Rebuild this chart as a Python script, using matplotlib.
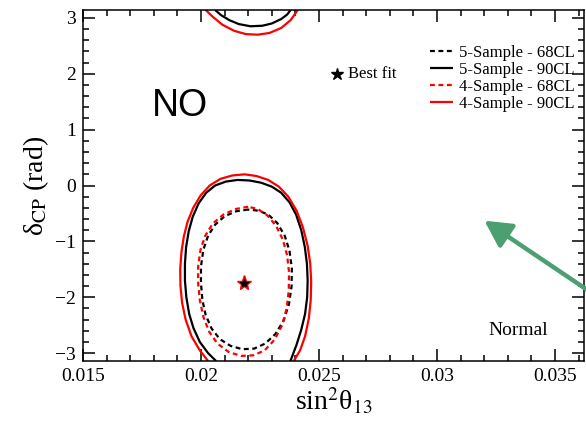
import numpy as np
import matplotlib
matplotlib.use("Agg")
import matplotlib.pyplot as plt
from matplotlib.ticker import MultipleLocator

plt.rcParams['font.family'] = ['Liberation Serif', 'DejaVu Serif']
plt.rcParams['mathtext.fontset'] = 'stix'

PI = np.pi

# contours (sin^2 theta13, delta_CP)
# 5-Sample 90CL main island
s5_90_x = [0.02064, 0.02030, 0.01995, 0.01968, 0.01950, 0.01938, 0.01932, 0.01932, 0.01937, 0.01948,
           0.01965, 0.01990, 0.02022, 0.02060, 0.02105, 0.02155, 0.02205, 0.02255, 0.02300, 0.02340,
           0.02375, 0.02403, 0.02425, 0.02440, 0.02449, 0.02452, 0.02450, 0.02441, 0.02425, 0.02405, 0.02379]
s5_90_y = [-PI, -3.00, -2.80, -2.55, -2.30, -2.00, -1.70, -1.40, -1.10, -0.82,
           -0.56, -0.32, -0.13, 0.00, 0.07, 0.10, 0.09, 0.05, -0.02, -0.13,
           -0.30, -0.52, -0.80, -1.10, -1.40, -1.70, -2.00, -2.30, -2.58, -2.85, -PI]
# 5-Sample 90CL piece wrapping round at +pi
s5_90_top_x = [0.0206, 0.02085, 0.0212, 0.0216, 0.0221, 0.0226, 0.0230, 0.0234, 0.02365, 0.0238]
s5_90_top_y = [PI, 3.05, 2.96, 2.89, 2.85, 2.86, 2.90, 2.98, 3.06, PI]

s4_90_x = [0.0203, 0.01995, 0.01960, 0.01935, 0.01920, 0.01913, 0.01912, 0.01917, 0.01927, 0.01943,
           0.01967, 0.01998, 0.02037, 0.02083, 0.02133, 0.02185, 0.02235, 0.02285, 0.02330, 0.02370,
           0.02405, 0.02432, 0.02452, 0.02463, 0.02467, 0.02465, 0.02457, 0.02441, 0.02420, 0.02393]
s4_90_y = [-PI, -2.95, -2.70, -2.40, -2.10, -1.80, -1.50, -1.20, -0.92, -0.65,
           -0.40, -0.18, 0.00, 0.12, 0.18, 0.20, 0.17, 0.10, -0.02, -0.20,
           -0.45, -0.75, -1.08, -1.40, -1.72, -2.05, -2.38, -2.70, -2.95, -PI]
s4_90_top_x = [0.0202, 0.0205, 0.0209, 0.0214, 0.0219, 0.0224, 0.0229, 0.0234, 0.0238, 0.0241]
s4_90_top_y = [PI, 3.02, 2.88, 2.77, 2.71, 2.70, 2.73, 2.82, 2.96, PI]

s5_68_x = [0.02200, 0.02150, 0.02100, 0.02060, 0.02030, 0.02010, 0.02000, 0.02000, 0.02006, 0.02020,
           0.02045, 0.02080, 0.02125, 0.02175, 0.02225, 0.02272, 0.02315, 0.02350, 0.02373, 0.02384,
           0.02385, 0.02375, 0.02355, 0.02323, 0.02285, 0.02243, 0.02200]
s5_68_y = [-0.43, -0.46, -0.55, -0.70, -0.90, -1.15, -1.45, -1.75, -2.05, -2.32,
           -2.56, -2.75, -2.87, -2.93, -2.92, -2.83, -2.66, -2.42, -2.12, -1.80,
           -1.48, -1.17, -0.90, -0.67, -0.52, -0.45, -0.43]

s4_68_x = [0.02200, 0.02148, 0.02095, 0.02050, 0.02018, 0.01998, 0.01988, 0.01988, 0.01995, 0.02010,
           0.02035, 0.02070, 0.02117, 0.02170, 0.02222, 0.02270, 0.02312, 0.02344, 0.02363, 0.02372,
           0.02373, 0.02365, 0.02347, 0.02318, 0.02280, 0.02240, 0.02200]
s4_68_y = [-0.38, -0.42, -0.52, -0.68, -0.90, -1.15, -1.45, -1.75, -2.05, -2.35,
           -2.62, -2.83, -2.98, -3.05, -3.04, -2.95, -2.76, -2.50, -2.20, -1.88,
           -1.55, -1.25, -0.97, -0.72, -0.53, -0.42, -0.38]

best_fit = (0.02184, -1.75)

fig = plt.figure(figsize=(5.86, 4.22), dpi=100)
ax = fig.add_axes([0.1416, 0.1445, 0.855, 0.8318])

dots = (0, (2.2, 1.6))
kw = dict(lw=1.6, solid_joinstyle='round', solid_capstyle='butt')
ax.plot(s5_68_x, s5_68_y, color='black', ls=dots, label='5-Sample - 68CL', **kw)
ax.plot(s5_90_x, s5_90_y, color='black', label='5-Sample - 90CL', **kw)
ax.plot(s4_68_x, s4_68_y, color='red', ls=dots, label='4-Sample - 68CL', **kw)
ax.plot(s4_90_x, s4_90_y, color='red', label='4-Sample - 90CL', **kw)
ax.plot(s5_90_top_x, s5_90_top_y, color='black', **kw)
ax.plot(s4_90_top_x, s4_90_top_y, color='red', **kw)

ax.plot(*best_fit, marker='*', color='red', ms=11, ls='none')
ax.plot(*best_fit, marker='*', color='black', ms=6, ls='none')

# best fit key
ax.plot(0.02577, 2.0, marker='*', color='black', ms=9, ls='none')
ax.text(0.02622, 2.0, 'Best fit', fontsize=12, va='center', ha='left')

ax.text(0.0191, 1.42, 'NO', family='Liberation Sans', fontsize=27, ha='center', va='center')
ax.text(0.03346, -2.59, 'Normal', fontsize=14, ha='center', va='center')

ax.annotate('', xy=(0.03201, -0.63), xytext=(0.03697, -2.04),
            arrowprops=dict(arrowstyle='-|>,head_length=1.6,head_width=0.85', lw=3.2,
                            color='#4c9f70', shrinkA=0, shrinkB=0),
            annotation_clip=False)

ax.set_xlim(0.015, 0.03623)
ax.set_ylim(-PI, PI)
ax.xaxis.set_major_locator(MultipleLocator(0.005))
ax.xaxis.set_minor_locator(MultipleLocator(0.001))
ax.yaxis.set_major_locator(MultipleLocator(1))
ax.yaxis.set_minor_locator(MultipleLocator(0.2))
ax.xaxis.set_major_formatter(plt.FuncFormatter(lambda v, p: ('%g' % round(v, 4))))
ax.tick_params(which='both', direction='in', top=True, right=True, labelsize=14, width=1.1)
ax.tick_params(which='major', length=8.5, pad=5)
ax.tick_params(which='minor', length=4.5)
for s in ax.spines.values():
    s.set_linewidth(1.1)

ax.set_xlabel(r'sin$^{2}$θ$_{13}$', fontsize=20, labelpad=1)
ax.set_ylabel(r'δ$_{\mathrm{CP}}$ (rad)', fontsize=20, labelpad=3)

ax.legend(loc='upper right', bbox_to_anchor=(0.995, 0.919), frameon=False, fontsize=12,
          handlelength=1.4, handletextpad=0.35, labelspacing=0.05, borderaxespad=0)

fig.savefig('out.png', dpi=100)
